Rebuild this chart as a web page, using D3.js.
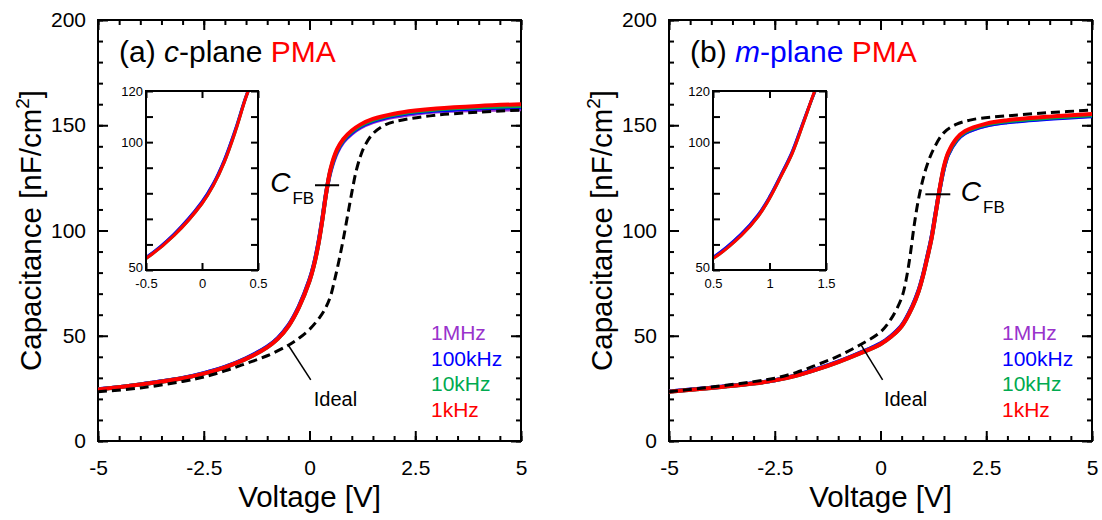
<!DOCTYPE html>
<html lang="en">
<head>
<meta charset="UTF-8">
<title>C-V curves, c-plane and m-plane PMA</title>
<script src="https://d3js.org/d3.v7.min.js"></script>
<style>
  body { margin: 0; background: #fff; }
  svg { font-family: "Liberation Sans", Arial, Helvetica, sans-serif; }
  .frame { fill: none; stroke: #000; stroke-width: 2; }
  .tick line { stroke: #000; stroke-width: 2; }
  .domain { display: none; }
</style>
</head>
<body>
<svg id="chart" width="1102" height="520"></svg>
<script>
// frequencies, drawn bottom to top
const freqLabels = ["1MHz", "100kHz", "10kHz", "1kHz"];
const freqColors = ["#9933cc", "#0000ff", "#00aa50", "#ff0000"];

// (a) c-plane PMA
const cVolt   = [-5, -4, -3, -2.5, -2, -1.5, -1, -0.75, -0.5, -0.25, 0, 0.1, 0.2, 0.3, 0.4, 0.5, 0.65, 0.8, 1, 1.2, 1.5, 2, 2.5, 3, 4, 5];
const c1kHz   = [24.5, 26.8, 29.8, 32, 35, 39, 44.5, 48.5, 54.5, 63.5, 76, 83, 92.3, 104.5, 118.5, 129.5, 138.5, 143.5, 147.5, 150.3, 153, 155.5, 157, 158, 159.2, 160];
const c10kHz  = [24.5, 26.8, 29.8, 32, 35, 39, 44.5, 48.5, 54.5, 63.5, 76, 83, 92.3, 104.5, 118.5, 129, 138, 143, 147, 149.8, 152.5, 155, 156.5, 157.5, 158.5, 159.2];
const c100kHz = [24.6, 26.9, 29.9, 32.2, 35.2, 39.3, 44.8, 48.9, 54.9, 64, 76.6, 83.6, 93, 105.1, 118.8, 128.6, 137.4, 142.5, 146.5, 149.3, 152, 154.5, 156, 157, 158, 158.6];
const c1MHz   = [24.6, 26.9, 29.9, 32.2, 35.2, 39.3, 44.8, 48.9, 54.9, 64, 76.6, 83.6, 93, 105.1, 118.4, 128, 136.8, 142, 146, 148.8, 151.5, 154, 155.5, 156.5, 157.2, 157.6];
const cIdealV = [-5, -4, -3, -2.5, -2, -1.5, -1, -0.5, -0.25, 0, 0.25, 0.4, 0.5, 0.6, 0.7, 0.8, 0.9, 1, 1.1, 1.2, 1.3, 1.5, 1.8, 2.2, 3, 4, 5];
const cIdeal  = [23.4, 25.2, 28.3, 30.4, 33.3, 36.8, 40.5, 45.5, 48.8, 53, 59, 64, 69, 77, 86, 96, 107, 118, 128, 135, 140, 146, 150.3, 152.5, 154.8, 156.2, 157.2];

// (b) m-plane PMA
const mVolt   = [-5, -4, -3, -2.5, -2, -1.5, -1, -0.5, 0, 0.25, 0.5, 0.75, 0.9, 1, 1.1, 1.2, 1.3, 1.4, 1.5, 1.6, 1.8, 2, 2.5, 3, 4, 5];
const m1kHz   = [23.4, 25.2, 27.3, 28.8, 31, 34, 37.5, 41.5, 46, 49.5, 54.5, 63.5, 71, 78, 86.5, 95.5, 107.5, 120, 130.5, 137, 143.8, 147.3, 150.8, 152.4, 154.1, 155.3];
const m10kHz  = [23.4, 25.2, 27.3, 28.8, 31, 34, 37.5, 41.5, 46, 49.5, 54.5, 63.5, 71, 78, 86.5, 95.5, 107.5, 119.8, 130, 136.5, 143.3, 146.8, 150.3, 151.9, 153.6, 154.8];
const m100kHz = [23.5, 25.3, 27.4, 28.9, 31.2, 34.2, 37.7, 41.8, 46.3, 49.9, 54.9, 64, 71.5, 78.5, 87, 96.1, 108, 119.6, 129.5, 136, 142.8, 146.3, 149.8, 151.4, 153.1, 154.3];
const m1MHz   = [23.5, 25.3, 27.4, 28.9, 31.2, 34.2, 37.7, 41.8, 46.3, 49.9, 54.9, 64, 71.5, 78.5, 87, 96.1, 108, 119.6, 129.5, 136, 142.8, 146.3, 149.9, 151.5, 153.3, 154.5];
const mIdealV = [-5, -4, -3, -2.5, -2, -1.5, -1, -0.5, 0, 0.25, 0.5, 0.6, 0.7, 0.8, 0.9, 1, 1.1, 1.25, 1.5, 1.8, 2.2, 3, 4, 5];
const mIdeal  = [23.4, 25.6, 28.2, 29.8, 32.5, 36.2, 40.3, 45.5, 51.8, 58, 68, 76, 88, 103, 115, 124, 131, 138.5, 146.5, 150.5, 152.8, 154.5, 156, 157.2];

// axis ticks
const xMajor = [-5, -2.5, 0, 2.5, 5];
const xMinor = d3.range(-5, 5.01, 0.5);
const yMajor = [0, 50, 100, 150, 200];
const yMinor = d3.range(0, 201, 10);
const insetYTicks = [50, 60, 70, 80, 90, 100, 110, 120];
const insetYLabels = [50, 100, 120];
const cInsetX = [-0.5, 0, 0.5];
const mInsetX = [0.5, 1, 1.5];

const svg = d3.select("#chart");
const plotTop = 20, plotBottom = 441, plotW = 423;

const panels = [
  { id: "a", left: 98, volt: cVolt, series: [c1MHz, c100kHz, c10kHz, c1kHz],
    idealV: cIdealV, ideal: cIdeal, insetLeft: 146, insetW: 112, insetX: cInsetX,
    cfb: { v0: 0.13, v1: 0.7, c: 121.5, textV: -0.93, textC: 118.5 },
    idealPtr: [[-0.5, 45.5], [0.03, 29]], idealText: [0.1, 16.8] },
  { id: "b", left: 669, volt: mVolt, series: [m1MHz, m100kHz, m10kHz, m1kHz],
    idealV: mIdealV, ideal: mIdeal, insetLeft: 713, insetW: 113, insetX: mInsetX,
    cfb: { v0: 1.06, v1: 1.65, c: 117.2, textV: 1.9, textC: 113.8 },
    idealPtr: [[-0.46, 45.7], [0.05, 29]], idealText: [0.08, 16.8] }
];

panels.forEach(p => {
  const x = d3.scaleLinear().domain([-5, 5]).range([p.left, p.left + plotW]);
  const y = d3.scaleLinear().domain([0, 200]).range([plotBottom, plotTop]);
  const g = svg.append("g");

  g.append("clipPath").attr("id", "clip-" + p.id)
    .append("rect").attr("x", p.left).attr("y", plotTop).attr("width", plotW).attr("height", plotBottom - plotTop);

  // minor ticks then major ticks on all four sides
  const fmt = d => String(d);
  g.append("g").attr("transform", `translate(0,${plotBottom})`).call(d3.axisBottom(x).tickValues(xMinor).tickSize(-5).tickFormat(""));
  g.append("g").attr("transform", `translate(0,${plotTop})`).call(d3.axisTop(x).tickValues(xMinor).tickSize(-5).tickFormat(""));
  g.append("g").attr("transform", `translate(${p.left},0)`).call(d3.axisLeft(y).tickValues(yMinor).tickSize(-5).tickFormat(""));
  g.append("g").attr("transform", `translate(${p.left + plotW},0)`).call(d3.axisRight(y).tickValues(yMinor).tickSize(-5).tickFormat(""));

  g.append("g").attr("transform", `translate(0,${plotBottom})`)
    .call(d3.axisBottom(x).tickValues(xMajor).tickSize(-10).tickPadding(19).tickFormat(fmt))
    .call(a => a.selectAll("text").attr("font-size", 21).attr("font-family", null).attr("fill", "#000"));
  g.append("g").attr("transform", `translate(0,${plotTop})`).call(d3.axisTop(x).tickValues(xMajor).tickSize(-10).tickFormat(""));
  g.append("g").attr("transform", `translate(${p.left},0)`)
    .call(d3.axisLeft(y).tickValues(yMajor).tickSize(-10).tickPadding(12).tickFormat(fmt))
    .call(a => a.selectAll("text").attr("font-size", 21).attr("font-family", null).attr("fill", "#000"));
  g.append("g").attr("transform", `translate(${p.left + plotW},0)`).call(d3.axisRight(y).tickValues(yMajor).tickSize(-10).tickFormat(""));

  g.append("rect").attr("class", "frame").attr("x", p.left).attr("y", plotTop).attr("width", plotW).attr("height", plotBottom - plotTop);

  // axis titles
  g.append("text").attr("x", p.left + plotW / 2).attr("y", 507).attr("text-anchor", "middle")
    .attr("font-size", 29.5).text("Voltage [V]");
  const yt = g.append("text").attr("transform", `translate(${p.left - 57},${(plotTop + plotBottom) / 2}) rotate(-90)`)
    .attr("text-anchor", "middle").attr("font-size", 29.5);
  yt.append("tspan").text("Capacitance [nF/cm");
  yt.append("tspan").attr("font-size", 19).attr("dy", -12).text("2");
  yt.append("tspan").attr("dy", 12).text("]");

  // curves
  const line = d3.line().curve(d3.curveCatmullRom.alpha(0.5)).x(d => x(d[0])).y(d => y(d[1]));
  const curves = g.append("g").attr("clip-path", `url(#clip-${p.id})`);
  p.series.forEach((s, i) => {
    curves.append("path").datum(p.volt.map((v, k) => [v, s[k]]))
      .attr("fill", "none").attr("stroke", freqColors[i]).attr("stroke-width", 4).attr("d", line);
  });
  curves.append("path").datum(p.idealV.map((v, k) => [v, p.ideal[k]]))
    .attr("fill", "none").attr("stroke", "#000").attr("stroke-width", 3)
    .attr("stroke-dasharray", "9,5").attr("d", line);

  // C_FB marker
  g.append("line").attr("x1", x(p.cfb.v0)).attr("x2", x(p.cfb.v1)).attr("y1", y(p.cfb.c)).attr("y2", y(p.cfb.c))
    .attr("stroke", "#000").attr("stroke-width", 2);
  const cfbText = g.append("text").attr("x", x(p.cfb.textV)).attr("y", y(p.cfb.textC)).attr("font-size", 28);
  cfbText.append("tspan").attr("font-style", "italic").text("C");
  cfbText.append("tspan").attr("font-size", 17).attr("dy", 12).attr("dx", 2).text("FB");

  // Ideal annotation
  g.append("line").attr("x1", x(p.idealPtr[0][0])).attr("y1", y(p.idealPtr[0][1]))
    .attr("x2", x(p.idealPtr[1][0])).attr("y2", y(p.idealPtr[1][1])).attr("stroke", "#000").attr("stroke-width", 1.5);
  g.append("text").attr("x", x(p.idealText[0])).attr("y", y(p.idealText[1])).attr("font-size", 20).text("Ideal");

  // legend
  freqLabels.forEach((f, i) => {
    g.append("text").attr("x", p.left + plotW - 90).attr("y", 340 + i * 25.5)
      .attr("font-size", 21).attr("fill", freqColors[i]).text(f);
  });

  // panel title
  const t = g.append("text").attr("x", p.left + 21).attr("y", 62).attr("font-size", 30);
  if (p.id === "a") {
    t.append("tspan").text("(a) ");
    t.append("tspan").attr("font-style", "italic").text("c");
    t.append("tspan").text("-plane ");
  } else {
    t.append("tspan").text("(b) ");
    t.append("tspan").attr("font-style", "italic").attr("fill", "#0000ff").text("m");
    t.append("tspan").attr("fill", "#0000ff").text("-plane ");
  }
  t.append("tspan").attr("fill", "#ff0000").text("PMA");

  // inset
  const iTop = 91, iBottom = 270;
  const ix = d3.scaleLinear().domain([p.insetX[0], p.insetX[2]]).range([p.insetLeft, p.insetLeft + p.insetW]);
  const iy = d3.scaleLinear().domain([50, 120]).range([iBottom, iTop]);
  const ig = g.append("g");
  ig.append("rect").attr("x", p.insetLeft).attr("y", iTop).attr("width", p.insetW).attr("height", iBottom - iTop).attr("fill", "#fff");
  ig.append("clipPath").attr("id", "iclip-" + p.id)
    .append("rect").attr("x", p.insetLeft).attr("y", iTop).attr("width", p.insetW).attr("height", iBottom - iTop);
  const iline = d3.line().curve(d3.curveCatmullRom.alpha(0.5)).x(d => ix(d[0])).y(d => iy(d[1]));
  const ic = ig.append("g").attr("clip-path", `url(#iclip-${p.id})`);
  p.series.forEach((s, i) => {
    ic.append("path").datum(p.volt.map((v, k) => [v, s[k]]))
      .attr("fill", "none").attr("stroke", freqColors[i]).attr("stroke-width", 3).attr("d", iline);
  });
  const small = a => a.selectAll("text").attr("font-size", 13).attr("font-family", null).attr("fill", "#000");
  ig.append("g").attr("transform", `translate(${p.insetLeft},0)`)
    .call(d3.axisLeft(iy).tickValues(insetYTicks).tickSize(-7).tickPadding(3)
      .tickFormat(d => insetYLabels.includes(d) ? String(d) : ""))
    .call(small)
    .call(a => a.selectAll(".tick").filter(d => d === 50).select("text").attr("dy", "0.1em"));
  ig.append("g").attr("transform", `translate(${p.insetLeft + p.insetW},0)`)
    .call(d3.axisRight(iy).tickValues(insetYTicks).tickSize(-7).tickFormat(""));
  ig.append("g").attr("transform", `translate(0,${iBottom})`)
    .call(d3.axisBottom(ix).tickValues(p.insetX).tickSize(-7).tickPadding(9).tickFormat(fmt))
    .call(small);
  ig.append("g").attr("transform", `translate(0,${iTop})`)
    .call(d3.axisTop(ix).tickValues(p.insetX).tickSize(-7).tickFormat(""));
  ig.append("rect").attr("class", "frame").attr("x", p.insetLeft).attr("y", iTop).attr("width", p.insetW).attr("height", iBottom - iTop);
});
</script>
</body>
</html>
